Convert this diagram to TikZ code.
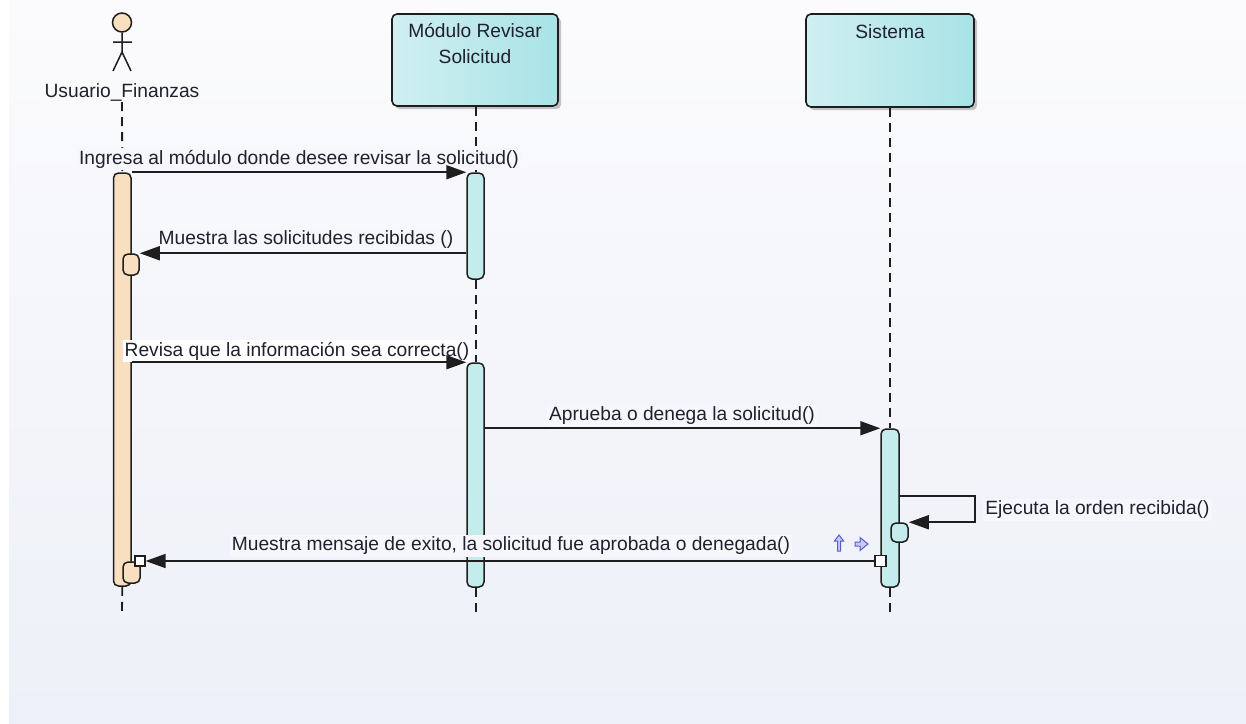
\documentclass[tikz,border=0pt]{standalone}
\usepackage{fontspec}
\setmainfont{Liberation Sans}
\usetikzlibrary{arrows.meta,shadows}
\definecolor{bgtop}{HTML}{FBFBFD}
\definecolor{bgbot}{HTML}{EDF0F8}
\definecolor{lblbg}{HTML}{F6F7FB}
\definecolor{boxl}{HTML}{D0EFF1}
\definecolor{boxr}{HTML}{A9E3E6}
\definecolor{barcyan}{HTML}{C4ECEC}
\definecolor{barpeach}{HTML}{F8DFBF}
\definecolor{ink}{HTML}{1E1E1E}
\definecolor{txt}{HTML}{20202E}
\definecolor{icon}{HTML}{5A5AD0}
\definecolor{iconfill}{HTML}{C8C8F2}
\tikzset{
  x=0.5pt, y=-0.5pt,
  lbl/.style={font=\fontsize{9.6pt}{12.5pt}\selectfont, text=txt, inner sep=1pt},
  lblf/.style={lbl, fill=lblbg},
  headbox/.style={draw=ink, line width=0.8pt, rounded corners=2.5pt, left color=boxl, right color=boxr, inner sep=0pt,
     drop shadow={shadow xshift=1.6pt, shadow yshift=-1.6pt, opacity=0.22, fill=black}},
  actbar/.style={draw=ink, line width=0.75pt, rounded corners=2.5pt, fill=barcyan, inner sep=0pt},
  actbarA/.style={actbar, fill=barpeach},
  life/.style={draw=ink, line width=0.9pt, dash pattern=on 4.5pt off 3pt},
  msg/.style={draw=ink, line width=0.85pt, -{Triangle[length=10pt,width=7pt]}},
  endsq/.style={draw=ink, line width=0.6pt, fill=white, inner sep=0pt, minimum size=5.5pt},
}
\begin{document}
\begin{tikzpicture}
\useasboundingbox (0,0) rectangle (1246,723);
\fill[white] (0,0) rectangle (1246,723);
\shade[top color=bgtop, bottom color=bgbot] (9,0) rectangle (1246,723);

% actor
\node[circle, draw=ink, line width=0.75pt, fill=barpeach, minimum size=9.5pt, inner sep=0pt] (head) at (122,22.5) {};
\draw[ink, line width=0.75pt] (head.south) -- (122,52) (113,42) -- (132,42) (113,71) -- (122,52) -- (131,71);
\node[lbl] (actor) at (122,92) {Usuario\_Finanzas};

% header boxes
\node[headbox, minimum width=83pt, minimum height=46pt] (mod) at (475,60) {};
\node[lbl, align=center] (modt) at (475,43.5) {Módulo Revisar\\[0.3pt]Solicitud};
\node[headbox, minimum width=84pt, minimum height=46.5pt] (sis) at (890,60.5) {};
\node[lbl] (sist) at (890,31.5) {Sistema};

% activation bars
\node[actbarA, minimum width=8.75pt, minimum height=206.5pt] (barA) at (122.25,379.5) {};
\node[actbarA, minimum width=8pt, minimum height=10.5pt] (smA1) at (131,264.5) {};
\node[actbarA, minimum width=8.5pt, minimum height=10.5pt] (smA2) at (131.5,572.5) {};
\node[actbar, minimum width=8.5pt, minimum height=53pt] (barM1) at (475.5,226) {};
\node[actbar, minimum width=8.5pt, minimum height=112pt] (barM2) at (475.5,475) {};
\node[actbar, minimum width=9pt, minimum height=79pt] (barS) at (890,508) {};
\node[actbar, minimum width=8.5pt, minimum height=9.5pt] (smS) at (899.5,532.5) {};

% lifelines
\coordinate (endA) at (122,616);
\coordinate (endM) at (476,616);
\coordinate (endS) at (890,616);
\draw[life] (122,102) -- (barA.north);
\draw[life] (barA.south) -- (endA);
\draw[life] (mod.south -| endM) -- (barM1.north -| endM);
\draw[life] (barM1.south -| endM) -- (barM2.north -| endM);
\draw[life] (barM2.south -| endM) -- (endM);
\draw[life] (sis.south) -- (barS.north);
\draw[life] (barS.south) -- (endS);

% message labels
\node[lblf] (l1) at (299,159) {Ingresa al módulo donde desee revisar la solicitud()};
\node[lblf] (l2) at (306,239.5) {Muestra las solicitudes recibidas ()};
\node[lblf, fill=white] (l3) at (297,351) {Revisa que la información sea correcta()};
\node[lblf] (l4) at (682,416) {Aprueba o denega la solicitud()};
\node[lblf, anchor=west] (l5) at (983,510) {Ejecuta la orden recibida()};
\node[lblf] (l6) at (511,546) {Muestra mensaje de exito, la solicitud fue aprobada o denegada()};

% messages
\draw[msg] (barA.east |- barM1.north) -- (barM1.north west);
\draw[msg] (barM1.west |- smA1.north) -- (smA1.north east);
\draw[msg] (barA.east |- barM2.north) -- (barM2.north west);
\draw[msg] (barM2.east |- barS.north) -- (barS.north west);
\coordinate (selfR) at (975,496);
\draw[msg] (barS.east |- selfR) -- (selfR) |- (smS.north east);
\node[endsq] (sqS) at (880.5,561) {};
\node[endsq, minimum size=5pt] (sqA) at (140,561) {};
\draw[msg] (sqS.west) -- (sqA.east);

% small selection icons
\filldraw[draw=icon, fill=iconfill, line width=0.5pt]
  (839,535) -- (843.5,541) -- (840.5,541) -- (840.5,551) -- (837.5,551) -- (837.5,541) -- (834.5,541) -- cycle;
\filldraw[draw=icon, fill=iconfill, line width=0.5pt]
  (855,542) -- (860,542) -- (860,537.5) -- (868,544) -- (860,550.5) -- (860,546) -- (855,546) -- cycle;
\end{tikzpicture}
\end{document}
